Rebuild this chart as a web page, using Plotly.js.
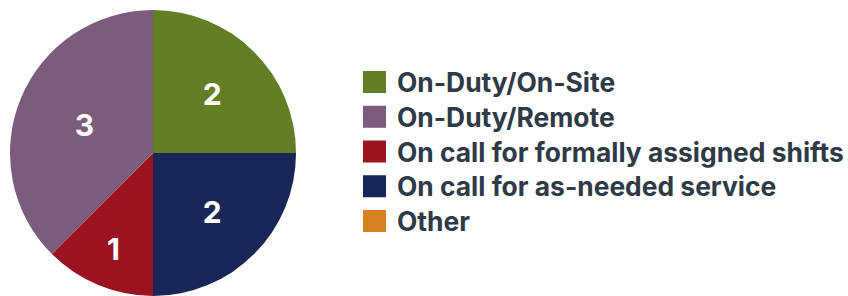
<!DOCTYPE html>
<html>
<head>
<meta charset="utf-8">
<script src="https://cdn.plot.ly/plotly-3.0.1.min.js"></script>
<style>html,body{margin:0;padding:0;background:#fff;}#chart{width:848px;height:296px;}</style>
</head>
<body>
<div id="chart"></div>
<script>
// Legend order
const legendLabels = ["On-Duty/On-Site", "On-Duty/Remote", "On call for formally assigned shifts", "On call for as-needed service", "Other"];
const legendColors = ["#637f26", "#7b5c7a", "#9b1320", "#1a2657", "#d6801f"];
// Pie order (clockwise from 12 o'clock)
const pieLabels = ["On-Duty/On-Site", "On call for as-needed service", "On call for formally assigned shifts", "On-Duty/Remote", "Other"];
const pieValues = [2, 2, 1, 3, 0];

const colorOf = {};
legendLabels.forEach((l, i) => colorOf[l] = legendColors[i]);

const W = 848, H = 296;
const px = x => x / W;
const py = y => 1 - y / H;

const trace = {
  type: "pie",
  labels: pieLabels,
  values: pieValues,
  marker: { colors: pieLabels.map(l => colorOf[l]), line: { width: 0 } },
  sort: false,
  direction: "clockwise",
  rotation: 0,
  textinfo: "value",
  textposition: "inside",
  insidetextorientation: "horizontal",
  insidetextfont: { family: "Inter, sans-serif", size: 30, color: "#ffffff", weight: 700 },
  domain: { x: [px(10), px(296)], y: [0, py(10)] },
  showlegend: false,
  hoverinfo: "label+value"
};

const shapes = [], annotations = [];
legendLabels.forEach((l, i) => {
  const cy = 82 + i * 34.75;
  shapes.push({ type: "rect", xref: "paper", yref: "paper",
    x0: px(363), x1: px(386), y0: py(cy + 11), y1: py(cy - 11),
    fillcolor: legendColors[i], line: { width: 0 } });
  annotations.push({ xref: "paper", yref: "paper", x: px(395), y: py(cy),
    xanchor: "left", yanchor: "middle", showarrow: false, text: l,
    font: { family: "Inter, sans-serif", size: 26.4, color: "#2e3a46", weight: 700 } });
});

const layout = {
  width: W, height: H,
  margin: { l: 0, r: 0, t: 0, b: 0 },
  paper_bgcolor: "#ffffff",
  showlegend: false,
  shapes: shapes,
  annotations: annotations
};
Plotly.newPlot("chart", [trace], layout, { displayModeBar: false, staticPlot: true });
</script>
</body>
</html>
